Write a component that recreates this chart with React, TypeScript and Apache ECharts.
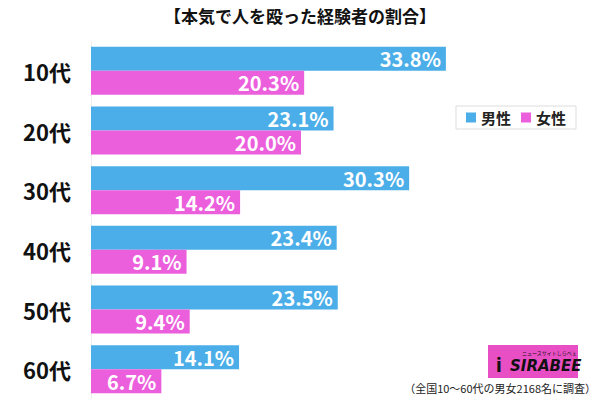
import React, { useEffect, useRef } from "react";
import * as echarts from "echarts";

const categories = ["10代", "20代", "30代", "40代", "50代", "60代"];
const maleValues = [33.8, 23.1, 30.3, 23.4, 23.5, 14.1];
const femaleValues = [20.3, 20.0, 14.2, 9.1, 9.4, 6.7];
const seriesNames = ["男性", "女性"];
const titleText = "【本気で人を殴った経験者の割合】";
const noteText = "（全国10〜60代の男女2168名に調査）";

const FONT = "'Noto Sans CJK JP', 'Noto Sans', sans-serif";

export default function App() {
  const ref = useRef<HTMLDivElement>(null);
  useEffect(() => {
    if (!ref.current) return;
    const chart = echarts.init(ref.current, null, { renderer: "svg" });
    const label = {
      show: true,
      position: "insideRight",
      distance: 5,
      color: "#fff",
      fontFamily: FONT,
      fontWeight: "bold",
      fontSize: 20,
      formatter: (p: any) => p.value.toFixed(1) + "%",
    };
    chart.setOption({
      animation: false,
      backgroundColor: "#fff",
      title: {
        text: titleText,
        left: "center",
        top: 2,
        textStyle: { fontFamily: FONT, fontWeight: "bold", fontSize: 17, color: "#111" },
      },
      legend: {
        data: seriesNames,
        right: 24,
        top: 106,
        orient: "horizontal",
        icon: "rect",
        itemWidth: 10,
        itemHeight: 10,
        itemGap: 10,
        padding: [4, 10],
        borderColor: "#ddd",
        borderWidth: 1,
        textStyle: { fontFamily: FONT, fontWeight: "bold", fontSize: 15, color: "#222" },
      },
      grid: { left: 91, top: 41, width: 420, height: 358, containLabel: false },
      xAxis: {
        type: "value",
        min: 0,
        max: 40,
        show: false,
      },
      yAxis: {
        type: "category",
        data: categories,
        inverse: true,
        axisLine: { show: true, lineStyle: { color: "#eee", width: 1 } },
        axisTick: { show: false },
        axisLabel: {
          margin: 20,
          fontFamily: FONT,
          fontWeight: "bold",
          fontSize: 22,
          color: "#111",
        },
      },
      series: [
        {
          name: seriesNames[0],
          type: "bar",
          data: maleValues,
          itemStyle: { color: "#4baee8" },
          barWidth: 24,
          barGap: "0%",
          label,
        },
        {
          name: seriesNames[1],
          type: "bar",
          data: femaleValues,
          itemStyle: { color: "#ec5fdc" },
          barWidth: 24,
          barGap: "0%",
          label,
        },
      ],
      graphic: [
        {
          type: "group",
          left: 488,
          top: 345,
          children: [
            { type: "rect", shape: { x: 0, y: 0, width: 90, height: 33 }, style: { fill: "#e84fc4" } },
            {
              type: "text",
              x: 8,
              y: 8,
              style: { text: "ℹ", fill: "#111", fontSize: 20, fontWeight: "bold", fontFamily: FONT },
            },
            {
              type: "text",
              x: 34,
              y: 5,
              style: { text: "ニュースサイトしらべぇ", fill: "#111", fontSize: 5, fontFamily: FONT },
            },
            {
              type: "text",
              x: 22,
              y: 13,
              style: {
                text: "SIRABEE",
                fill: "#111",
                fontSize: 15,
                fontWeight: "bold",
                fontStyle: "italic",
                fontFamily: "'DejaVu Sans', sans-serif",
              },
            },
          ],
        },
        {
          type: "text",
          right: 4,
          top: 382,
          style: { text: noteText, fill: "#222", fontSize: 11, fontFamily: FONT },
        },
      ],
    });
    return () => chart.dispose();
  }, []);
  return <div ref={ref} style={{ width: 600, height: 403, position: "fixed", left: 0, top: 0 }} />;
}
